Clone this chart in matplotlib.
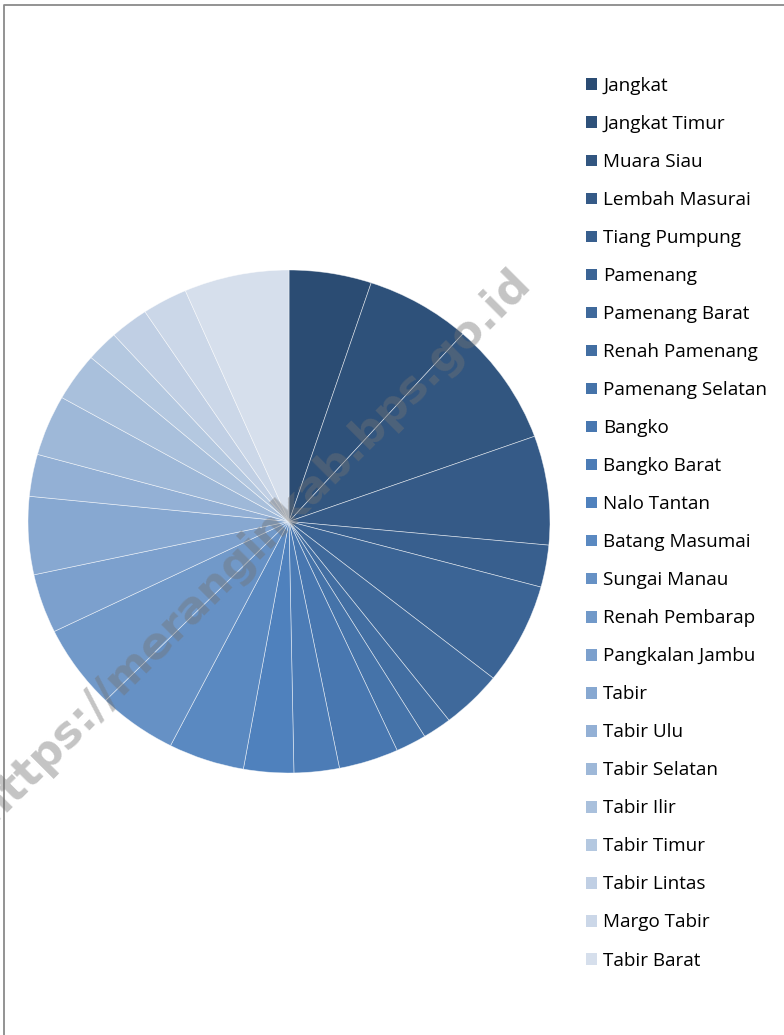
import matplotlib.pyplot as plt
import numpy as np
from matplotlib.colors import to_rgb
from matplotlib.patches import Patch
from matplotlib.lines import Line2D

kecamatan = ['Jangkat', 'Jangkat Timur', 'Muara Siau', 'Lembah Masurai', 'Tiang Pumpung',
             'Pamenang', 'Pamenang Barat', 'Renah Pamenang', 'Pamenang Selatan', 'Bangko',
             'Bangko Barat', 'Nalo Tantan', 'Batang Masumai', 'Sungai Manau', 'Renah Pembarap',
             'Pangkalan Jambu', 'Tabir', 'Tabir Ulu', 'Tabir Selatan', 'Tabir Ilir',
             'Tabir Timur', 'Tabir Lintas', 'Margo Tabir', 'Tabir Barat']
persen = [5.1, 6.5, 7.9, 7.0, 2.7, 6.5, 3.8, 1.8, 1.9, 3.7, 2.8, 3.1,
          4.7, 4.9, 5.4, 3.8, 5.0, 2.7, 3.9, 3.1, 2.0, 2.4, 2.8, 6.5]

W, H = 784, 1035


def blend(c1, c2, t):
    a, b = np.array(to_rgb(c1)), np.array(to_rgb(c2))
    return tuple(a + (b - a) * t)


# monochrome blue palette: dark shade -> accent -> light tint
n = len(kecamatan)
colors = []
for i in range(n):
    if i <= 11:
        colors.append(blend('#2b4c73', '#4f81bd', i / 11))
    else:
        colors.append(blend('#4f81bd', '#d6dfec', (i - 11) / (n - 12)))

fig = plt.figure(figsize=(W / 100, H / 100), dpi=100)
fig.patch.set_facecolor('white')

cx, cy, rx, ry = 289, 521.5, 261, 251.5
ax = fig.add_axes([(cx - rx) / W, (H - cy - ry) / H, 2 * rx / W, 2 * ry / H])
ax.pie(persen, colors=colors, startangle=90, counterclock=False, radius=1,
       wedgeprops={'edgecolor': (1, 1, 1, 0.6), 'linewidth': 0.5})
ax.set_xlim(-1, 1)
ax.set_ylim(-1, 1)
ax.set_aspect('auto')
ax.axis('off')

handles = [Patch(facecolor=c, edgecolor='none') for c in colors]
fig.legend(handles, kecamatan, loc='upper left', bbox_to_anchor=(586 / W, 1 - 77 / H),
           frameon=False, prop={'family': 'Open Sans', 'size': 13.6},
           handlelength=0.58, handleheight=0.58, handletextpad=0.32,
           labelspacing=1.06, borderpad=0, borderaxespad=0)

# watermark
fig.text(253 / W, 1 - 546 / H, 'https://meranginkab.bps.go.id', rotation=45,
         ha='center', va='center', fontsize=32, fontweight='bold',
         family='DejaVu Sans', color=(0.45, 0.45, 0.45), alpha=0.42)

# chart area border (top and left edges visible)
fig.add_artist(Line2D([3.5 / W, 3.5 / W, 1.1], [-0.1, 1 - 4.5 / H, 1 - 4.5 / H],
                      transform=fig.transFigure, color='#8a8a8a', linewidth=1.3))

plt.savefig('out.png', dpi=100)
